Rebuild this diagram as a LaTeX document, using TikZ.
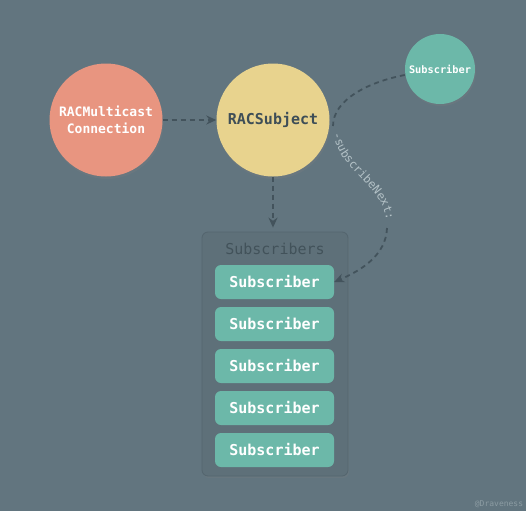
\documentclass[tikz,border=0pt]{standalone}
\usepackage{fontspec}
\setmonofont{DejaVu Sans Mono}
\usetikzlibrary{arrows.meta,shadows,decorations.text}
\definecolor{bgcol}{RGB}{98,117,127}
\definecolor{salmon}{RGB}{232,149,128}
\definecolor{sand}{RGB}{232,211,142}
\definecolor{teal}{RGB}{108,184,169}
\definecolor{contfill}{RGB}{94,112,121}
\definecolor{contline}{RGB}{84,101,110}
\definecolor{darkink}{RGB}{62,78,87}
\definecolor{titleink}{RGB}{66,82,90}
\definecolor{lineink}{RGB}{67,83,92}
\definecolor{labelink}{RGB}{180,194,199}
\definecolor{markink}{RGB}{140,156,163}
\tikzset{
  bigcircle/.style={circle, minimum size=113pt, inner sep=0pt, align=center,
    drop shadow={shadow xshift=1pt, shadow yshift=-2.5pt, opacity=0.25}},
  smallcircle/.style={circle, minimum size=70pt, inner sep=0pt, fill=teal, text=white,
    font=\ttfamily\bfseries\fontsize{10.3}{12}\selectfont,
    drop shadow={shadow xshift=1pt, shadow yshift=-2pt, opacity=0.25}},
  subbox/.style={rectangle, rounded corners=6pt, fill=teal, text=white,
    minimum width=119pt, minimum height=34pt, inner sep=0pt,
    font=\ttfamily\bfseries\fontsize{15}{18}\selectfont},
  container/.style={rectangle, rounded corners=6pt, fill=contfill, draw=contline, line width=0.8pt,
    drop shadow={shadow xshift=1pt, shadow yshift=-2pt, opacity=0.2}},
  conn/.style={draw=lineink, line width=1.8pt, dash pattern=on 5pt off 4pt},
  tip/.style={-{Stealth[length=10pt,width=9pt]}},
}
\begin{document}
\begin{tikzpicture}[x=1pt,y=-1pt]
\fill[bgcol] (0,0) rectangle (526,511);
\useasboundingbox (0,0) rectangle (526,511);

% container
\node[container, minimum width=146pt, minimum height=244pt, inner sep=0pt] (cont) at (275,354) {};
\node[text=titleink, font=\ttfamily\fontsize{15}{18}\selectfont] (title) at (275,249) {Subscribers};

% boxes
\node[subbox] (b1) at (274.5,282) {Subscriber};
\node[subbox] (b2) at (274.5,324) {Subscriber};
\node[subbox] (b3) at (274.5,366) {Subscriber};
\node[subbox] (b4) at (274.5,408) {Subscriber};
\node[subbox] (b5) at (274.5,450) {Subscriber};

% circles
\node[bigcircle, fill=salmon, text=white, font=\ttfamily\bfseries\fontsize{13}{17}\selectfont] (mc) at (106,120) {RACMulticast\\Connection};
\node[bigcircle, fill=sand, text=darkink, font=\ttfamily\bfseries\fontsize{15}{18}\selectfont] (subj) at (273,120) {RACSubject};
\node[smallcircle] (sub) at (440,69) {Subscriber};

% connectors
\draw[conn, tip] (mc) -- (subj);
\draw[conn, tip, shorten >=4pt] (subj) -- (cont.north -| subj);

\coordinate (c1) at (333,126);
\coordinate (c2) at (387,228);
\draw[conn] (sub.west) ++(0,6) .. controls (368,82) and (333,100) .. (c1);
\path[decorate, decoration={text along path, text align=center,
  text={|\ttfamily\fontsize{11.5}{13}\selectfont\color{labelink}|-subscribeNext:}}]
  (c1) .. controls (333,172) and (387,182) .. (c2);
\draw[conn, tip] (c2) .. controls (386,255) and (362,270) .. (b1.east);

% watermark
\node[text=markink, font=\ttfamily\fontsize{8}{9}\selectfont] (mark) at (499,504) {@Draveness};
\end{tikzpicture}
\end{document}
